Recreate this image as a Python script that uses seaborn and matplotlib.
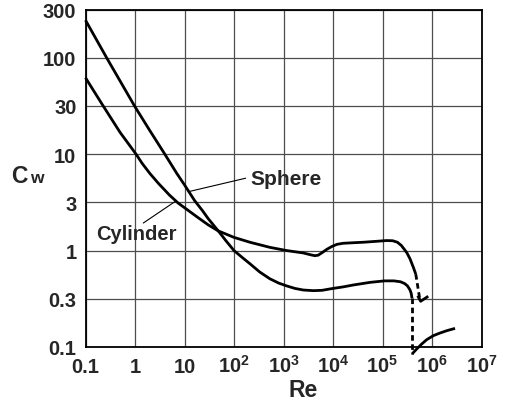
import numpy as np
import pandas as pd
import matplotlib
matplotlib.use("Agg")
import matplotlib.pyplot as plt
import seaborn as sns

# ---- data (Re, drag coefficient Cw) ----
sphere_re = [0.1, 0.27, 1.0, 2.0, 4.0, 7, 10, 16, 23, 30, 48, 70, 100, 150, 210,
             330, 530, 800, 1160, 1700, 2500, 4000, 6000, 9400, 1.6e4, 2.6e4,
             5.6e4, 1.1e5, 1.7e5, 2.3e5, 2.8e5, 3.2e5, 3.6e5, 3.8e5, 3.95e5]
sphere_cw = [245, 99, 31, 17.5, 10, 6.3, 4.8, 3.3, 2.6, 2.15, 1.6, 1.25, 1.0, 0.84,
             0.73, 0.6, 0.51, 0.46, 0.43, 0.405, 0.39, 0.384, 0.387, 0.403, 0.42,
             0.44, 0.468, 0.485, 0.485, 0.475, 0.455, 0.43, 0.39, 0.36, 0.32]
sphere_drop_re = [3.95e5, 3.95e5]
sphere_drop_cw = [0.32, 0.0846]
sphere_tail_re = [3.95e5, 4.9e5, 6.2e5, 7.8e5, 1.06e6, 1.45e6, 1.98e6, 2.92e6]
sphere_tail_cw = [0.0846, 0.0953, 0.1074, 0.119, 0.131, 0.1396, 0.1475, 0.156]

cyl_re = [0.1, 0.22, 0.5, 1.05, 1.4, 2.0, 3.0, 5.0, 7.5, 12, 17.6, 30, 48, 100,
          210, 530, 1160, 2500, 3500, 4300, 5000, 6000, 7500, 9400, 1.2e4, 1.6e4,
          2.5e4, 4.1e4, 8e4, 1.2e5, 1.6e5, 2.0e5, 2.4e5, 2.8e5, 3.1e5, 3.6e5,
          4.2e5, 4.7e5]
cyl_cw = [62, 32.5, 16.8, 10, 8.0, 6.3, 4.95, 3.75, 3.1, 2.6, 2.25, 1.85, 1.6, 1.37,
          1.22, 1.08, 1.0, 0.945, 0.905, 0.885, 0.895, 0.95, 1.03, 1.10, 1.16, 1.19,
          1.205, 1.22, 1.25, 1.27, 1.265, 1.22, 1.13, 1.02, 0.95, 0.82, 0.67, 0.57]
cyl_drop_re = [4.7e5, 5.73e5]
cyl_drop_cw = [0.57, 0.302]
cyl_tail_re = [5.14e5, 5.9e5, 8.4e5]
cyl_tail_cw = [0.34, 0.298, 0.336]

y_ticks = [10 ** (-1 + k / 2) for k in range(8)]
y_labels = ["0.1", "0.3", "1", "3", "10", "30", "100", "300"]
x_ticks = [10.0 ** k for k in range(-1, 8)]
x_labels = ["0.1", "1", "10", r"$10^{2}$", r"$10^{3}$", r"$10^{4}$",
            r"$10^{5}$", r"$10^{6}$", r"$10^{7}$"]

# ---- style ----
sns.set_style("white")
plt.rcParams["font.family"] = ["Liberation Sans", "DejaVu Sans"]
plt.rcParams["font.weight"] = "bold"
plt.rcParams["mathtext.fontset"] = "custom"
plt.rcParams["mathtext.rm"] = "Liberation Sans:bold"
plt.rcParams["mathtext.it"] = "Liberation Sans:bold"
plt.rcParams["mathtext.bf"] = "Liberation Sans:bold"

W, H = 509, 402
fig = plt.figure(figsize=(W / 100, H / 100), dpi=100)
ax = fig.add_axes([85.5 / W, 54 / H, (481.5 - 85.5) / W, (348 - 10.5) / H])
ax.set_xscale("log")
ax.set_yscale("log")

lw = 2.0
dash = (0, (2.0, 1.3))
segments = [
    (sphere_re, sphere_cw, "-"),
    (sphere_drop_re, sphere_drop_cw, dash),
    (sphere_tail_re, sphere_tail_cw, "-"),
    (cyl_re, cyl_cw, "-"),
    (cyl_drop_re, cyl_drop_cw, dash),
    (cyl_tail_re, cyl_tail_cw, "-"),
]
for xs, ys, ls in segments:
    df = pd.DataFrame({"Re": xs, "Cw": ys})
    sns.lineplot(data=df, x="Re", y="Cw", ax=ax, color="black", linewidth=lw,
                 linestyle=ls, sort=False, estimator=None, clip_on=False,
                 solid_capstyle="butt", solid_joinstyle="round")

ax.set_xlim(0.1, 1e7)
ax.set_ylim(0.1, 10 ** 2.5)
ax.set_xticks(x_ticks)
ax.set_xticklabels(x_labels, fontsize=14.5, fontweight="bold")
ax.set_yticks(y_ticks)
ax.set_yticklabels(y_labels, fontsize=14.5, fontweight="bold")
ax.minorticks_off()
ax.tick_params(axis="both", length=0)
ax.tick_params(axis="y", pad=6.5)
ax.tick_params(axis="x", pad=18)
for lab in ax.get_xticklabels():
    lab.set_va("baseline")

ax.grid(True, which="major", color="0.3", linewidth=0.9)
ax.set_axisbelow(True)
for sp in ax.spines.values():
    sp.set_color("black")
    sp.set_linewidth(1.3)
ax.set_xlabel("")
ax.set_ylabel("")

# labels and leader lines
ax.text(210, 4.91, "Sphere", fontsize=15, fontweight="bold", ha="left", va="baseline")
ax.annotate("", xy=(12.5, 4.1), xytext=(172, 5.63),
            arrowprops=dict(arrowstyle="-", color="black", lw=0.8,
                            shrinkA=0, shrinkB=0))
ax.text(0.161, 1.32, "Cylinder", fontsize=14.5, fontweight="bold", ha="left", va="baseline")
ax.annotate("", xy=(6.9, 3.3), xytext=(1.47, 1.93),
            arrowprops=dict(arrowstyle="-", color="black", lw=0.8,
                            shrinkA=0, shrinkB=0))

fig.text(303.3 / W, (H - 397.3) / H, "Re", fontsize=16.5, fontweight="bold",
         ha="center", va="baseline")
fig.text(11.0 / W, (H - 183.3) / H, "C", fontsize=16.5, fontweight="bold",
         ha="left", va="baseline")
fig.text(30.5 / W, (H - 183.3) / H, "w", fontsize=12.5, fontweight="bold",
         ha="left", va="baseline")

fig.savefig("out.png", dpi=100)
